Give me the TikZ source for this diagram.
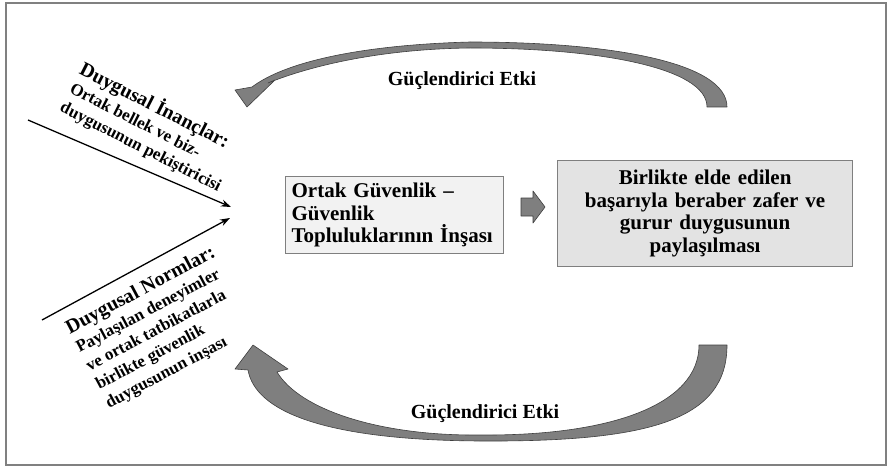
\documentclass[tikz,border=0pt]{standalone}
\usepackage{fontspec}
\setmainfont{Liberation Serif}
\usetikzlibrary{arrows.meta}
\definecolor{framec}{HTML}{808080}
\definecolor{arrowf}{HTML}{7F7F7F}
\definecolor{arrowd}{HTML}{3F3F3F}
\definecolor{boxa}{HTML}{F2F2F2}
\definecolor{boxb}{HTML}{E3E3E3}
\definecolor{boxd}{HTML}{7F7F7F}
\begin{document}
\begin{tikzpicture}[x=1pt,y=-1pt,
  bigarrow/.style={fill=arrowf, draw=arrowd, line width=0.6pt, line join=round},
  boxbase/.style={draw=boxd, line width=1.2pt, inner sep=0pt, font=\fontsize{21}{22.7}\selectfont\bfseries},
  lbl/.style={font=\fontsize{20}{23}\selectfont\bfseries, inner sep=0pt},
  rotblock/.style={align=left, inner sep=0pt, font=\fontsize{17}{21}\selectfont\bfseries},
  pointer/.style={line width=1.3pt, -{Stealth[length=10pt,width=7pt]}}]
\useasboundingbox (0,0) rectangle (888,468);
\draw[framec, line width=2pt] (6,3) rectangle (886,465);

% boxes
\node[boxbase, fill=boxa, anchor=north west, minimum width=218pt, minimum height=77pt, text width=206pt, align=left] (b1) at (285,176) {Ortak Güvenlik –\\Güvenlik\\Topluluklarının İnşası};
\node[boxbase, fill=boxb, anchor=north west, minimum width=295pt, minimum height=106pt, text width=285pt, align=center] (b2) at (557,160) {Birlikte elde edilen\\başarıyla beraber zafer ve\\gurur duygusunun\\paylaşılması};

% small block arrow
\draw[bigarrow] (521,198) -- (533,198) -- (533,191) -- (545,207) -- (533,223) -- (533,216) -- (521,216) -- cycle;

% top curved arrow
\draw[bigarrow] (235,90) -- (252,87) .. controls (285,62) and (360,45) .. (470,42)
  .. controls (610,42) and (727,62) .. (727,107) -- (707,107)
  .. controls (707,68) and (600,48) .. (470,48)
  .. controls (380,49) and (310,66) .. (268,83) -- (275,80) -- (247,107) -- cycle;

% bottom curved arrow
\draw[bigarrow] (235,369) -- (248,370) .. controls (255,410) and (320,440) .. (480,441)
  .. controls (650,442) and (727,420) .. (727,345) -- (699,345)
  .. controls (699,405) and (610,436) .. (480,435)
  .. controls (380,436) and (300,410) .. (277,372) -- (288,369) -- (253,345) -- cycle;

\node[lbl] (g1) at (462,81) {Güçlendirici Etki};
\node[lbl] (g2) at (485,414) {Güçlendirici Etki};

% rotated texts
\node[rotblock, rotate=-27, anchor=north west] (n1) at (86,58) {{\fontsize{20}{21}\selectfont Duygusal İnançlar:}\\Ortak bellek ve biz-\\duygusunun pekiştiricisi};
\node[rotblock, rotate=28, anchor=north west] (n2) at (63,322) {{\fontsize{20}{21}\selectfont Duygusal Normlar:}\\Paylaşılan deneyimler\\ve ortak tatbikatlarla\\birlikte güvenlik\\duygusunun inşası};

% pointers
\coordinate (p1s) at (28,120);
\coordinate (p1e) at (231,207);
\coordinate (p2s) at (42,320);
\coordinate (p2e) at (230,218);
\draw[pointer] (p1s) -- (p1e);
\draw[pointer] (p2s) -- (p2e);
\end{tikzpicture}
\end{document}
